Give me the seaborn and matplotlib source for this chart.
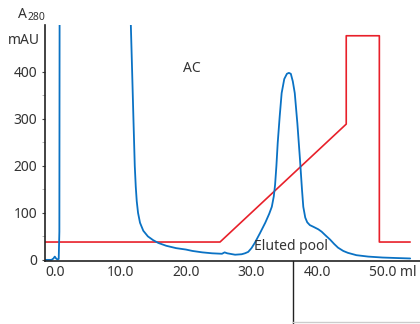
import matplotlib
matplotlib.use("Agg")
import matplotlib.pyplot as plt
import seaborn as sns
import pandas as pd
from matplotlib.lines import Line2D
from matplotlib.transforms import blended_transform_factory, ScaledTranslation

# A280 trace (ml, mAU)
uv_ml = [-1.5, -0.5, -0.2, 0.0, 0.2, 0.4, 0.6, 0.7, 0.75, 11.5, 11.6, 11.8, 12.0, 12.2,
         12.35, 12.5, 12.7, 13.0, 13.5, 14.2, 15.0, 15.8, 17.0, 18.5, 20.0, 21.0, 22.5,
         24.0, 25.5, 25.9, 26.3, 27.5, 28.5, 29.0, 29.5, 30.0, 30.5, 31.3, 32.1, 32.7,
         33.1, 33.4, 33.6, 33.8, 34.0, 34.3, 34.6, 35.0, 35.4, 35.7, 36.0, 36.3, 36.6,
         37.0, 37.4, 37.7, 37.9, 38.2, 38.5, 38.9, 39.5, 40.2, 40.7, 41.3, 42.0, 42.6,
         43.2, 44.0, 44.7, 46.0, 47.8, 50.0, 52.0, 54.2]
uv_mau = [0, 0, 3, 7, 3, 1, 2, 60, 700, 700, 500, 400, 298, 200,
          156, 125, 100, 79, 62, 50, 42, 36, 30, 25, 22, 19, 16,
          14, 13, 16, 14, 11, 12, 14, 17, 25, 36, 57, 79, 98,
          113, 135, 160, 200, 249, 305, 355, 385, 396, 398, 396, 380, 355,
          290, 213, 150, 113, 90, 80, 74, 70, 65, 60, 52, 43, 34,
          26, 19, 15, 10, 7, 5, 4, 3]

# gradient / conductivity trace (same y scale)
grad_ml = [-1.5, 25.2, 44.45, 44.45, 49.5, 49.5, 54.2]
grad_val = [38, 38, 289, 477, 477, 38, 38]

xticks = [0, 10, 20, 30, 40, 50]
xticklabels = ["0.0", "10.0", "20.0", "30.0", "40.0", "50.0 ml"]
yticks = [0, 100, 200, 300, 400]
pool_start = 36.3

uv = pd.DataFrame({"ml": uv_ml, "mAU": uv_mau})
grad = pd.DataFrame({"ml": grad_ml, "val": grad_val})

sns.set_style("ticks")
plt.rcParams["font.family"] = ["Noto Sans", "DejaVu Sans"]
txt = "#333333"

fig = plt.figure(figsize=(4.2, 3.24), dpi=100)
ax = fig.add_axes([0.107, 0.195, 0.893, 0.728])

sns.lineplot(data=grad, x="ml", y="val", sort=False, estimator=None,
             color="#e8202a", linewidth=1.2, ax=ax)
sns.lineplot(data=uv, x="ml", y="mAU", sort=False, estimator=None,
             color="#0a72c4", linewidth=1.3, ax=ax)

ax.set_xlim(-1.5, 55.7)
ax.set_ylim(-2, 500)
ax.set_xlabel("")
ax.set_ylabel("")
sns.despine(ax=ax)
for s in ["left", "bottom"]:
    ax.spines[s].set_linewidth(1.2)
    ax.spines[s].set_color("#222222")

ax.set_xticks(xticks)
ax.set_xticklabels(xticklabels)
ax.set_yticks(yticks)
ax.set_yticks([50, 150, 250, 350], minor=True)
ax.tick_params(axis="x", length=0, pad=3, labelsize=10, labelcolor=txt)
ax.tick_params(axis="y", which="major", length=2.5, width=0.8, color="#444444",
               pad=3, labelsize=10, labelcolor=txt)
ax.tick_params(axis="y", which="minor", length=2.5, width=0.6, color="#aaaaaa")

# keep "50.0" centred on its tick, the unit hangs to the right
last = ax.get_xticklabels()[-1]
last.set_transform(last.get_transform() + ScaledTranslation(10 / 100, 0, fig.dpi_scale_trans))

ax.text(20.9, 408, "AC", ha="center", va="center", fontsize=10, color=txt)
ax.text(36.1, 29, "Eluted pool", ha="center", va="center", fontsize=10, color=txt)

fig.text(18 / 420, 1 - 14 / 324, "A", ha="left", va="center", fontsize=10, color=txt)
fig.text(28 / 420, 1 - 17 / 324, "280", ha="left", va="center", fontsize=7.5, color=txt)
fig.text(40 / 420, 1 - 40 / 324, "mAU", ha="right", va="center", fontsize=10, color=txt)

# pool marker below the axis
tr = blended_transform_factory(ax.transData, fig.transFigure)
ax.add_line(Line2D([pool_start, pool_start], [0.195, 0.0], transform=tr,
                   color="#222222", linewidth=1.0, clip_on=False))
ax.add_line(Line2D([pool_start, 60], [2 / 324, 2 / 324], transform=tr,
                   color="#cccccc", linewidth=1.0, clip_on=False))

fig.savefig("out.png", dpi=100)
